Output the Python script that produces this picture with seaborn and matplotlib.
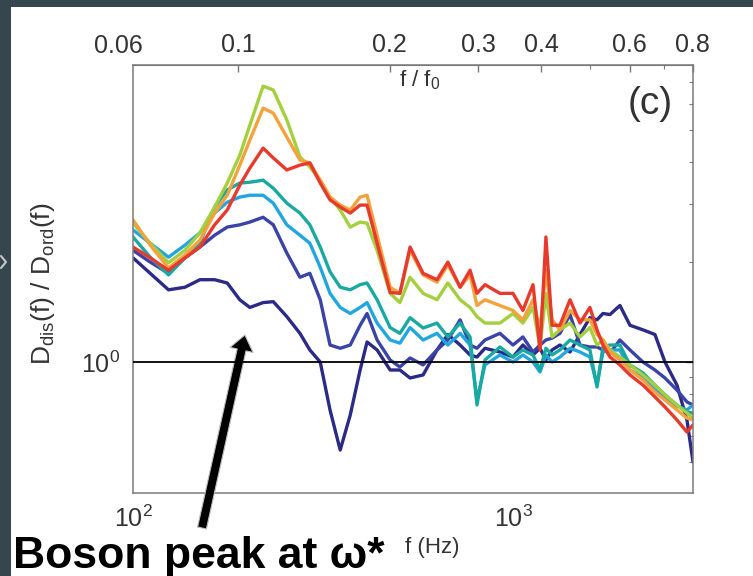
import numpy as np
import pandas as pd
import matplotlib
matplotlib.use("Agg")
import matplotlib.pyplot as plt
import seaborn as sns
from matplotlib.patches import Rectangle
from matplotlib.lines import Line2D
from matplotlib.ticker import FixedLocator, NullFormatter

# Frequency grid shared by all spectra (Hz)
freq_hz = [100, 111, 124, 137, 150, 164, 177, 191, 203, 220, 234, 254, 275, 292, 311,
           330, 351, 373, 396, 413, 439, 475, 504, 536, 580, 631, 674, 726, 771, 804,
           844, 924, 1000, 1062, 1129, 1178, 1221, 1267, 1329, 1413, 1501, 1594, 1664,
           1725, 1800, 1912, 2032, 2198, 2364, 2512, 2701, 2870, 2977]

# D_dis(f) / D_ord(f) for each sample
ratio_navy = [2.06, 1.85, 1.65, 1.68, 1.77, 1.77, 1.73, 1.54, 1.46, 1.51,
              1.52, 1.37, 1.22, 1.087, 1.0, 0.717, 0.543, 0.692, 0.946, 1.149,
              1.087, 0.946, 0.946, 0.895, 0.914, 1.087, 1.21, 1.125, 1.05, 1.035,
              1.10, 1.072, 1.035, 1.125, 1.05, 1.10, 1.014, 1.087, 1.125, 1.072,
              1.21, 1.36, 1.34, 1.40, 1.39, 1.48, 1.29, 1.25, 1.21, 1.0,
              0.852, 0.669, 0.50]
ratio_blue = [2.17, 2.00, 1.85, 2.06, 2.22, 2.41, 2.55, 2.59, 2.64, 2.73,
              2.59, 2.13, 1.80, 1.85, 1.54, 1.125, 1.10, 1.125, 1.29, 1.40,
              1.165, 1.014, 0.966, 1.028, 0.98, 1.087, 1.165, 1.34, 1.125, 1.10,
              1.165, 1.22, 1.125, 1.19, 1.072, 1.125, 1.165, 1.18, 1.22, 1.39,
              1.125, 1.11, 1.11, 1.087, 1.064, 1.165, 1.087, 1.0, 0.946, 0.895,
              0.823, 0.758, 0.742]
ratio_sky = [2.50, 2.28, 2.07, 2.25, 2.45, 2.81, 3.03, 3.14, 3.18, 3.18,
             3.01, 2.59, 2.41, 2.28, 1.93, 1.61, 1.46, 1.40, 1.46, 1.51,
             1.31, 1.165, 1.14, 1.27, 1.165, 1.22, 1.125, 1.22, 1.125, 0.768,
             0.98, 1.05, 1.0, 1.05, 1.0, 0.933, 1.05, 1.0, 1.035, 1.10,
             1.072, 1.035, 0.852, 1.072, 1.087, 1.087, 0.946, 0.895, 0.823, 0.779,
             0.737, 0.717, 0.742]
ratio_teal = [2.38, 2.07, 1.83, 2.06, 2.28, 2.93, 3.30, 3.46, 3.48, 3.53,
              3.34, 3.01, 2.81, 2.59, 2.22, 1.87, 1.68, 1.65, 1.71, 1.73,
              1.54, 1.27, 1.22, 1.36, 1.266, 1.31, 1.19, 1.31, 1.19, 0.742,
              1.014, 1.11, 1.035, 1.087, 1.05, 0.946, 1.10, 1.05, 1.087, 1.165,
              1.125, 1.087, 0.841, 1.11, 1.125, 1.125, 0.98, 0.927, 0.852, 0.796,
              0.742, 0.707, 0.702]
ratio_lime = [2.62, 2.28, 1.99, 2.17, 2.45, 2.93, 3.46, 4.20, 5.17, 6.78,
              6.60, 5.36, 4.15, 3.87, 3.53, 3.14, 2.87, 2.55, 2.64, 2.62,
              2.17, 1.61, 1.51, 1.80, 1.61, 1.54, 1.73, 1.54, 1.46, 1.37,
              1.31, 1.31, 1.40, 1.31, 1.46, 1.11, 1.61, 1.19, 1.25, 1.31,
              1.19, 1.27, 1.125, 1.165, 1.087, 1.035, 0.98, 0.914, 0.852, 0.796,
              0.742, 0.702, 0.678]
ratio_orange = [2.68, 2.25, 1.92, 2.10, 2.33, 2.81, 3.18, 3.92, 4.66, 5.82,
                5.62, 4.76, 4.06, 3.98, 3.53, 3.14, 2.97, 2.87, 3.14, 3.18,
                2.41, 1.68, 1.61, 2.17, 1.83, 1.74, 1.96, 1.68, 1.83, 1.48,
                1.54, 1.48, 1.43, 1.34, 1.54, 1.25, 1.89, 1.34, 1.25, 1.43,
                1.34, 1.34, 1.21, 1.165, 1.072, 1.014, 0.946, 0.883, 0.812, 0.768,
                0.717, 0.678, 0.669]
ratio_red = [2.22, 2.06, 1.89, 2.06, 2.22, 2.59, 2.87, 3.41, 3.84, 4.41,
             4.12, 3.79, 3.92, 3.98, 3.46, 3.08, 2.93, 2.81, 2.97, 2.97,
             2.28, 1.62, 1.61, 2.22, 1.85, 1.77, 2.00, 1.68, 1.89, 1.61,
             1.71, 1.61, 1.61, 1.43, 1.71, 1.087, 2.38, 1.29, 1.29, 1.54,
             1.31, 1.46, 1.25, 1.125, 1.035, 0.98, 0.914, 0.852, 0.785, 0.732,
             0.669, 0.615, 0.646]

series = {
    "navy": ratio_navy, "blue": ratio_blue, "sky": ratio_sky, "teal": ratio_teal,
    "lime": ratio_lime, "orange": ratio_orange, "red": ratio_red,
}
palette = {
    "navy": "#2b2a86", "blue": "#3a43a6", "sky": "#22a6df", "teal": "#1aa9a0",
    "lime": "#a4cf3e", "orange": "#f4a23c", "red": "#e83a2c",
}

top_ticks = [0.1, 0.2, 0.3, 0.4, 0.6, 0.8]
top_tick_labels = ["0.1", "0.2", "0.3", "0.4", "0.6", "0.8"]
top_minor = [0.5, 0.7]

df = pd.concat(
    [pd.DataFrame({"freq": freq_hz, "ratio": vals, "sample": name})
     for name, vals in series.items()],
    ignore_index=True,
)

sns.set_style("white")
plt.rcParams["font.family"] = ["Liberation Sans", "DejaVu Sans"]
plt.rcParams["mathtext.fontset"] = "custom"
plt.rcParams["mathtext.rm"] = "Liberation Sans"
plt.rcParams["mathtext.it"] = "Liberation Sans:italic"
plt.rcParams["mathtext.bf"] = "Liberation Sans:bold"

W, H = 753, 576
fig = plt.figure(figsize=(W / 100, H / 100), dpi=100)
fig.patch.set_facecolor("#36464f")
fig.add_artist(Rectangle((11 / W, 0), 1, 1 - 7 / H, transform=fig.transFigure,
                         facecolor="white", edgecolor="none", zorder=-10))
fig.add_artist(Line2D([1 / W, 6 / W, 1 / W], [1 - 256 / H, 1 - 262 / H, 1 - 268 / H],
                      transform=fig.transFigure, color="#c8c8c8", lw=1.5))

ax = fig.add_axes([133 / W, 1 - 493 / H, 560 / W, 428 / H])
ax.set_facecolor("white")
ax.set_xscale("log")
ax.set_yscale("log")

sns.lineplot(data=df, x="freq", y="ratio", hue="sample", palette=palette,
             hue_order=list(series.keys()), estimator=None, sort=False,
             linewidth=2.4, legend=False, ax=ax)
for line in ax.get_lines():
    line.set_solid_joinstyle("round")

ax.axhline(1.0, color="black", lw=1.3, zorder=5)

ax.set_xlim(100, 2977)
ax.set_ylim(0.403, 7.85)

for s in ax.spines.values():
    s.set_color("#7a7a7a")
    s.set_linewidth(1.1)

ax.tick_params(which="both", direction="in", colors="#7a7a7a", labelcolor="#333333",
               top=False, right=True, labelsize=18)
ax.tick_params(which="major", length=5, width=1)
ax.tick_params(which="minor", length=3, width=0.8)
ax.tick_params(axis="x", pad=9)
ax.tick_params(axis="y", pad=9)
ax.xaxis.set_minor_formatter(NullFormatter())
ax.yaxis.set_minor_formatter(NullFormatter())

ax.set_xlabel("f (Hz)", fontsize=16, color="#333333")
ax.xaxis.set_label_coords((432 - 133) / 560, -0.102)
ax.set_ylabel(r"D$_{\mathrm{dis}}$(f) / D$_{\mathrm{ord}}$(f)", fontsize=19, color="#333333")
ax.yaxis.set_label_coords(-0.135, 0.49)

# Top axis: reduced frequency f / f0
F_REF, T_REF, EXPO = 188.9, 0.1, 0.7545


def to_reduced(f):
    f = np.clip(np.asarray(f, dtype=float), 1e-9, None)
    return T_REF * (f / F_REF) ** EXPO


def to_freq(t):
    t = np.clip(np.asarray(t, dtype=float), 1e-12, None)
    return F_REF * (t / T_REF) ** (1.0 / EXPO)


sec = ax.secondary_xaxis("top", functions=(to_reduced, to_freq))
sec.set_xticks(top_ticks, labels=top_tick_labels)
sec.xaxis.set_minor_locator(FixedLocator(top_minor))
sec.xaxis.set_minor_formatter(NullFormatter())
sec.tick_params(which="both", direction="in", colors="#7a7a7a", labelcolor="#333333",
                labelsize=18, pad=6)
sec.tick_params(which="major", length=5, width=1)
sec.tick_params(which="minor", length=3, width=0.8)
sec.spines["top"].set_color("#7a7a7a")
ax.annotate("0.06", xy=(float(to_freq(0.06)), 1.0), xycoords=ax.get_xaxis_transform(),
            xytext=(-6, 5), textcoords="offset points", ha="center", va="bottom",
            fontsize=18, color="#333333", annotation_clip=False)

ax.text((420 - 133) / 560, (493 - 80) / 428, "f / f$_0$", transform=ax.transAxes,
        ha="center", va="center", fontsize=16, color="#333333")
ax.text((650 - 133) / 560, (493 - 104) / 428, "(c)", transform=ax.transAxes,
        ha="center", va="center", fontsize=28, color="#333333")

# Arrow pointing at the boson peak
ax.annotate("", xy=(197, 1.206), xycoords="data", xytext=(202, H - 528),
            textcoords="figure pixels", annotation_clip=False,
            arrowprops=dict(facecolor="black", edgecolor="#bdbdbd", linewidth=0.8,
                            width=6.5, headwidth=17, headlength=11, shrink=0))
fig.text(13 / W, 8 / H, "Boson peak at ω*", fontsize=32, fontweight="bold",
         color="black", ha="left", va="baseline")

fig.savefig("out.png", dpi=100, facecolor=fig.get_facecolor())
